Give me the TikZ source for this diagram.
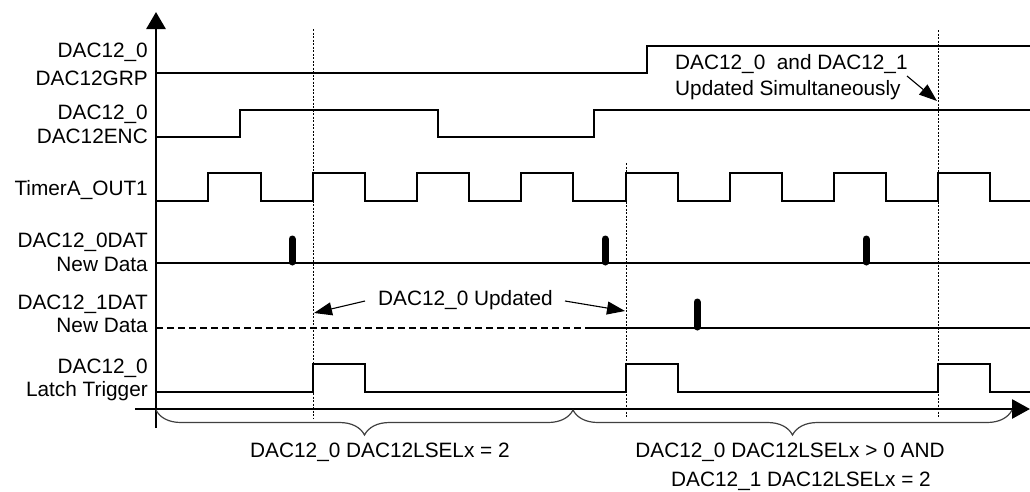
\documentclass[tikz,border=0pt]{standalone}
\usepackage{fontspec}
\setmainfont{Liberation Sans}
\usetikzlibrary{arrows.meta,decorations.pathreplacing}
\begin{document}
\begin{tikzpicture}[x=1pt,y=-1pt,
  sig/.style={line width=2.6pt, line join=miter},
  ax/.style={line width=2.8pt},
  guide/.style={line width=0.7pt, dash pattern=on 2pt off 1.5pt},
  lbl/.style={anchor=base east, inner sep=0pt, font=\fontsize{20.8}{24}\selectfont},
  txt/.style={anchor=base west, inner sep=0pt, font=\fontsize{20.8}{24}\selectfont},
  ctxt/.style={anchor=base, inner sep=0pt, font=\fontsize{20.8}{24}\selectfont},
  ann/.style={line width=1.1pt, -{Triangle[length=18pt,width=13pt]}},
  datatick/.style={line width=7pt, line cap=round},
  bracebox/.style={decorate, decoration={brace, amplitude=25pt, mirror}, draw=black!75, line width=1.2pt}
]
\useasboundingbox (0,0) rectangle (1030,491);

% guides
\draw[guide] (313,29) -- (313,418);
\draw[guide] (626,163) -- (626,418);
\draw[guide] (938,30) -- (938,418);

% axes
\coordinate (yb) at (156,428);
\coordinate (yt) at (156,12);
\coordinate (xl) at (135,409);
\coordinate (xr) at (1030,409);
\draw[ax, -{Triangle[length=17pt,width=19pt]}] (yb) -- (yt);
\draw[ax, -{Triangle[length=18pt,width=19pt]}] (xl) -- (xr);

% labels
\node[lbl] (grp1) at (148,57) {DAC12\_0};
\node[lbl] (grp2) at (148,85) {DAC12GRP};
\node[lbl] (enc1) at (148,119) {DAC12\_0};
\node[lbl] (enc2) at (148,143) {DAC12ENC};
\node[lbl] (tim)  at (148,195) {TimerA\_OUT1};
\node[lbl] (d01)  at (148,247) {DAC12\_0DAT};
\node[lbl] (d02)  at (148,271) {New Data};
\node[lbl] (d11)  at (148,309) {DAC12\_1DAT};
\node[lbl] (d12)  at (148,332) {New Data};
\node[lbl] (lt1)  at (148,373) {DAC12\_0};
\node[lbl] (lt2)  at (148,396) {Latch Trigger};

% signals
\draw[sig] (156,73) -- (647,73) -- (647,46) -- (1030,46);
\draw[sig] (156,137) -- (240,137) -- (240,110) -- (438,110) -- (438,137) -- (594,137) -- (594,110) -- (1030,110);
\draw[sig] (156,201) -- (208,201) -- (208,173) -- (261,173) -- (261,201)
  -- (313,201) -- (313,173) -- (365,173) -- (365,201)
  -- (417,201) -- (417,173) -- (469,173) -- (469,201)
  -- (521,201) -- (521,173) -- (573,173) -- (573,201)
  -- (626,201) -- (626,173) -- (678,173) -- (678,201)
  -- (730,201) -- (730,173) -- (782,173) -- (782,201)
  -- (834,201) -- (834,173) -- (886,173) -- (886,201)
  -- (938,201) -- (938,173) -- (990,173) -- (990,201) -- (1030,201);
\draw[sig] (156,263) -- (1030,263);
\draw[datatick] (292,239) -- (292,262);
\draw[datatick] (605,239) -- (605,262);
\draw[datatick] (866,239) -- (866,262);
\draw[sig, dash pattern=on 7pt off 4pt] (156,328) -- (590,328);
\draw[sig] (590,328) -- (1030,328);
\draw[datatick] (697,302) -- (697,327);
\draw[sig] (156,392) -- (313,392) -- (313,364) -- (365,364) -- (365,392)
  -- (626,392) -- (626,364) -- (678,364) -- (678,392)
  -- (938,392) -- (938,364) -- (990,364) -- (990,392) -- (1030,392);

% annotations
\node[txt] (sim1) at (675,69) {DAC12\_0\ \ and DAC12\_1};
\node[txt] (sim2) at (675,95) {Updated Simultaneously};
\coordinate (sims) at (907,76);
\coordinate (simt) at (937,101);
\draw[ann] (sims) -- (simt);

\node[txt] (upd) at (378,305) {DAC12\_0 Updated};
\coordinate (u1s) at (365,301);
\coordinate (u1t) at (314,313);
\coordinate (u2s) at (565,301);
\coordinate (u2t) at (625,311);
\draw[ann] (u1s) -- (u1t);
\draw[ann] (u2s) -- (u2t);

% braces
\coordinate (b0) at (156,410);
\coordinate (b1) at (573,410);
\coordinate (b2) at (1012,410);
\draw[bracebox] (b0) -- (b1);
\draw[bracebox] (b1) -- (b2);
\node[ctxt] (br1) at (380,457) {DAC12\_0 DAC12LSELx = 2};
\node[ctxt] (br2) at (790,457) {DAC12\_0 DAC12LSELx > 0 AND};
\node[ctxt] (br3) at (801,486) {DAC12\_1 DAC12LSELx = 2};
\end{tikzpicture}
\end{document}
